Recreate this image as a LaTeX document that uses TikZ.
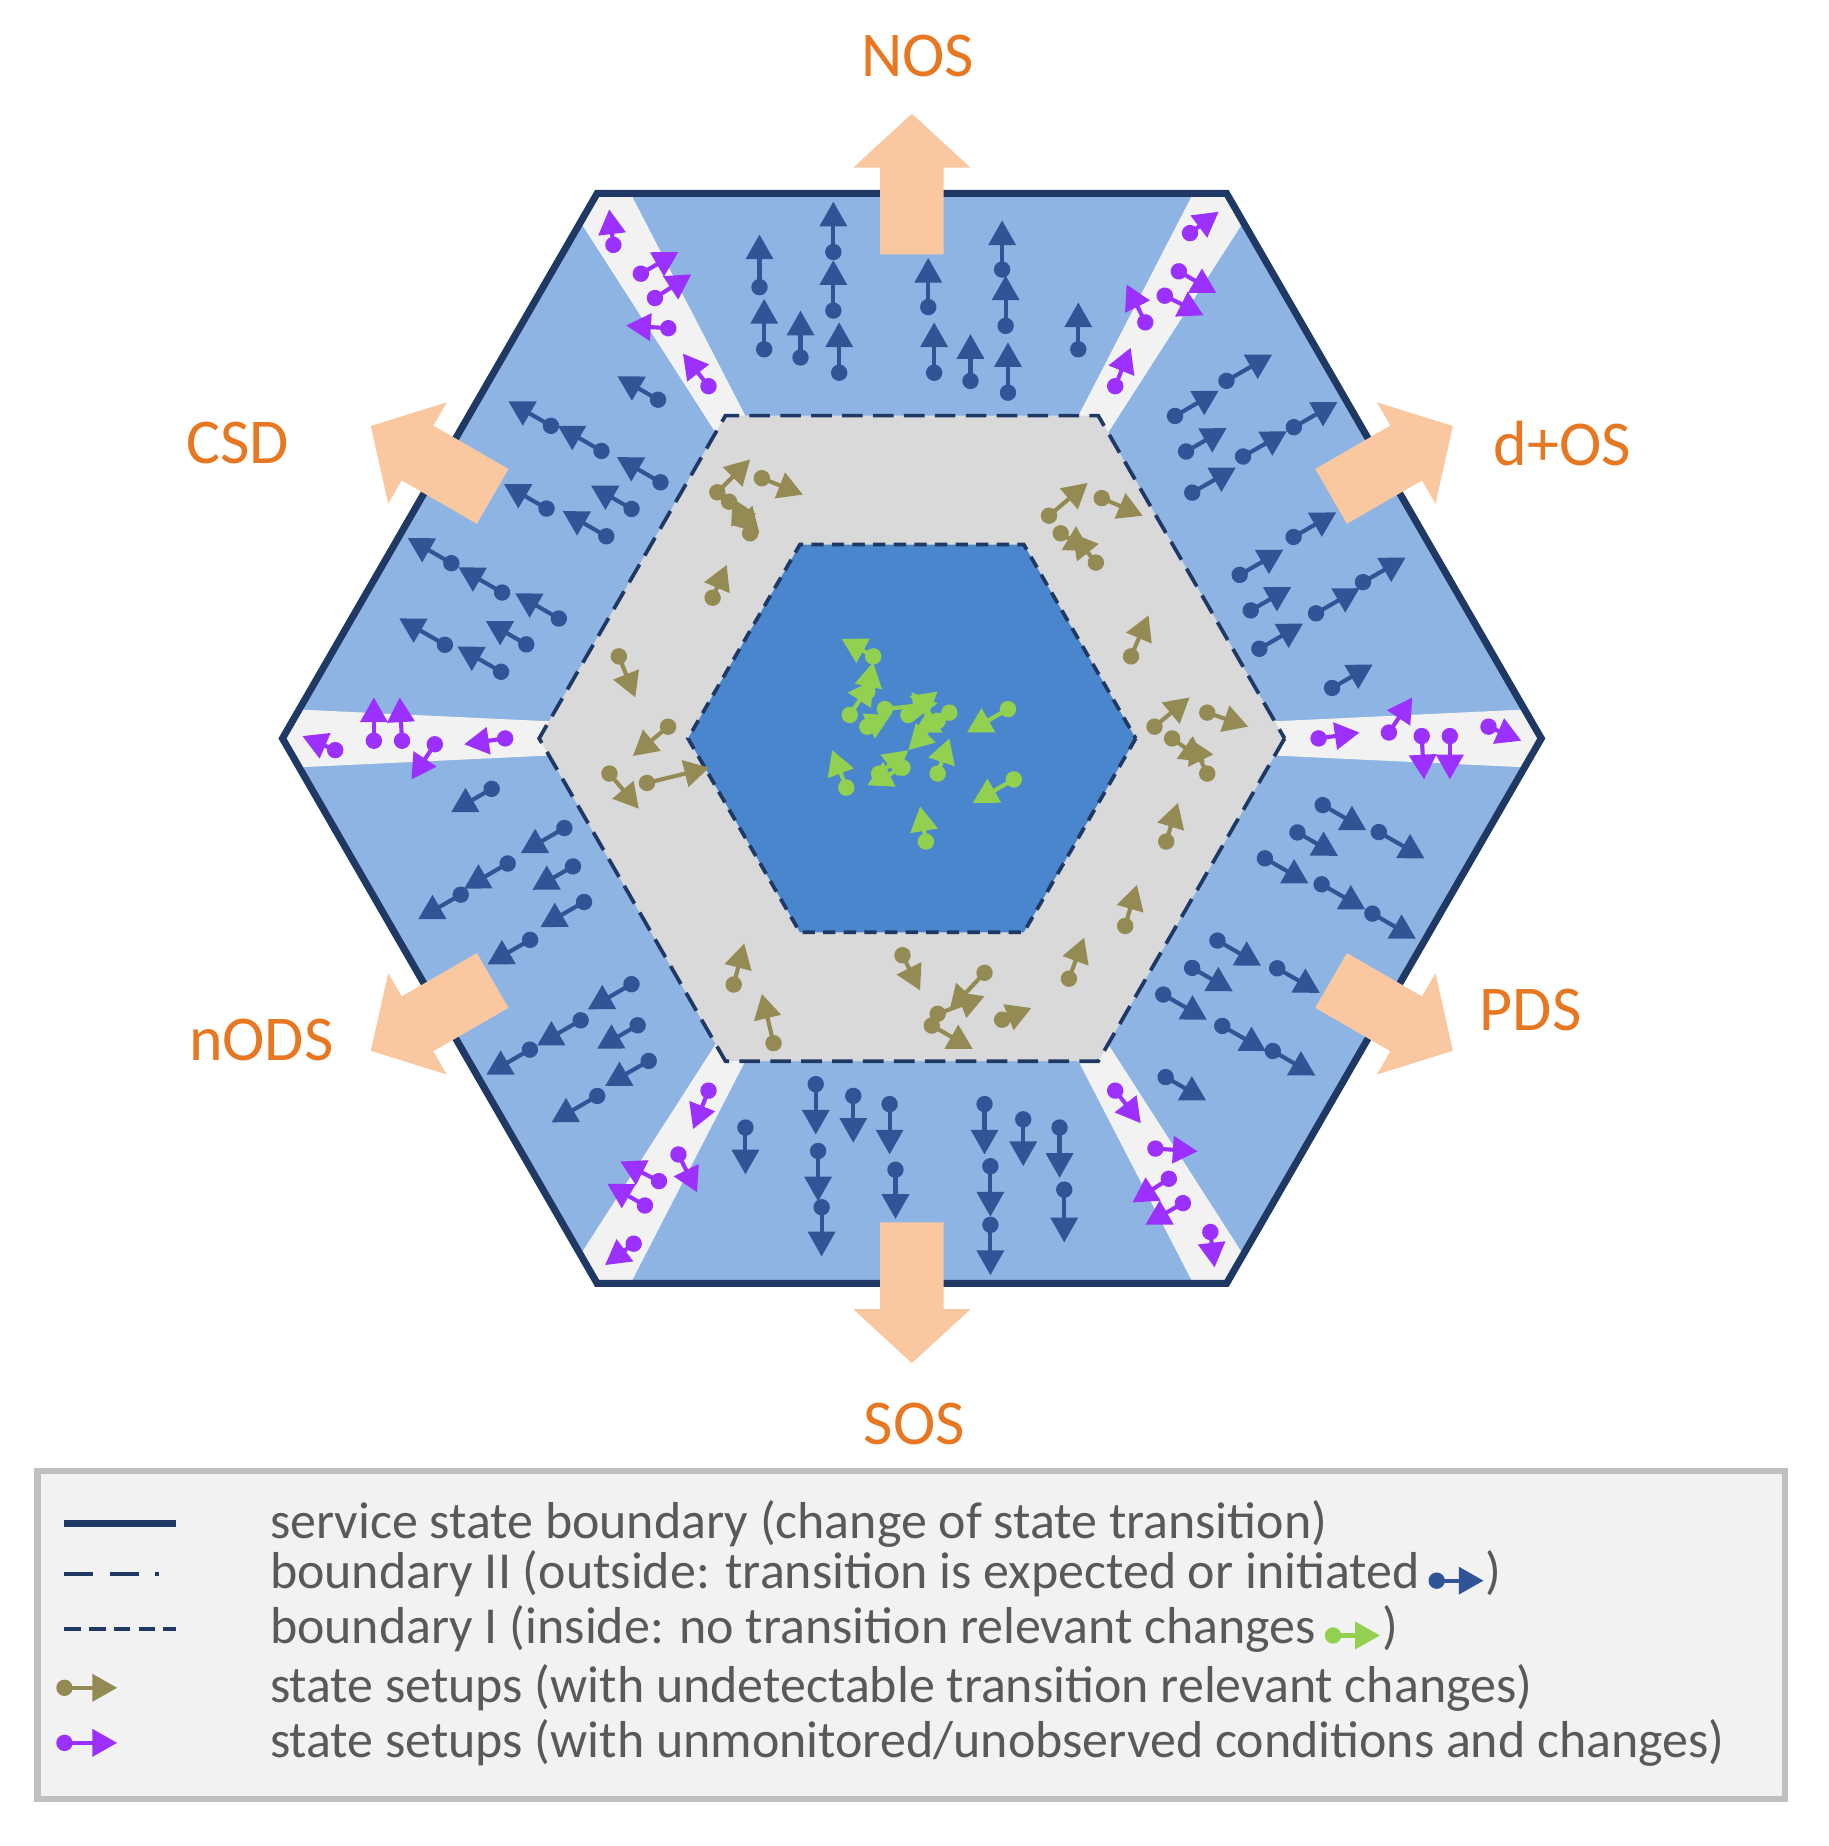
\documentclass[tikz,border=0pt]{standalone}
\usepackage{fontspec}
\setmainfont{Carlito}
\usetikzlibrary{arrows.meta,calc}
\definecolor{navy}{HTML}{1F3864}
\definecolor{lblue}{HTML}{8EB4E3}
\definecolor{mblue}{HTML}{4A86CE}
\definecolor{ring}{HTML}{D9D9D9}
\definecolor{strip}{HTML}{F2F2F2}
\definecolor{peach}{HTML}{FAC8A0}
\definecolor{orng}{HTML}{E87722}
\definecolor{sblue}{HTML}{2F5597}
\definecolor{brn}{HTML}{948A54}
\definecolor{grn}{HTML}{92D050}
\definecolor{purp}{HTML}{9B30FF}
\definecolor{txt}{HTML}{595959}
\tikzset{
  sa/.style={line width=1pt,-{Triangle[length=6pt,width=6.5pt]}},
  lab/.style={text=orng,font=\fontsize{15.5}{18}\selectfont},
  legt/.style={text=txt,anchor=west,font=\fontsize{12.6}{14}\selectfont},
}
\newcommand\dar[5]{\draw[sa,#1] (#2,#3) -- (#4,#5); \fill[#1] (#2,#3) circle (7);}
\begin{document}
\begin{tikzpicture}[x=0.01cm,y=-0.01cm]
\useasboundingbox (0,0) rectangle (1560,1575);
\coordinate (c) at (778,630);
\fill[lblue] ($(c)+(0:537)$) \foreach \k in {60,120,...,300}{ -- ($(c)+(\k:537)$)} -- cycle;
\begin{scope}
\clip ($(c)+(0:537)$) \foreach \k in {60,120,...,300}{ -- ($(c)+(\k:537)$)} -- cycle;
\foreach \k in {0,60,...,300}{
  \fill[strip] (c) -- ($(c)+(\k-2.7:620)$) -- ($(c)+(\k+2.7:620)$) -- cycle;
}
\end{scope}
\draw[navy,line width=0.9pt,fill=ring,dash pattern=on 5pt off 2.5pt] ($(c)+(0:318)$) \foreach \k in {60,120,...,300}{ -- ($(c)+(\k:318)$)} -- cycle;
\draw[navy,line width=0.9pt,fill=mblue,dash pattern=on 3pt off 2pt] ($(c)+(0:191)$) \foreach \k in {60,120,...,300}{ -- ($(c)+(\k:191)$)} -- cycle;
\draw[navy,line width=1.7pt] ($(c)+(0:537)$) \foreach \k in {60,120,...,300}{ -- ($(c)+(\k:537)$)} -- cycle;
\foreach \r in {0,60,...,300}{
\begin{scope}[shift={(c)},rotate=\r]
\foreach \xa/\ya/\xb/\yb in {648/245/648/200,652/298/652/255,683/305/683/265,711/215/711/172,711/265/711/222,716/318/716/275,792/262/792/220,797/318/797/275,828/325/828/285,855/230/855/188,858/278/858/235,860/335/860/292,920/298/920/258}{
  \dar{sblue}{\xa-778}{\ya-630}{\xb-778}{\yb-630}
}
\foreach \xa/\ya/\xb/\yb in {347/0/382/-5,407/-5/427/-35,435/-2/437/35,459/-2/459/35,492/-10/520/2}{
  \dar{purp}{\xa}{\ya}{\xb}{\yb}
}
\end{scope}}
\foreach \xa/\ya/\xb/\yb in {612/420/640/392,650/408/685/422,622/428/648/455,640/455/625/425,608/510/620/482,528/560/542/595,520/660/545/690,552/668/605/655,570/620/540/645,895/440/928/412,940/425/975/440,905/455/930/470,935/480/915/455,965/560/980/525,985/620/1015/595,1030/608/1065/620,1000/630/1028/650,1030/660/1015/630,995/718/1005/685,960/790/970/755,912/835/925/800,770/815/785/845,800/865/840/850,840/830/810/862,795/875/830/895,855/870/880/860,660/890/650/848,626/840/635/805}{
  \dar{brn}{\xa}{\ya}{\xb}{\yb}
}
\foreach \xa/\ya/\xb/\yb in {745/560/718/545,740/590/745/565,725/610/745/580,755/605/800/600,775/610/800/590,800/615/775/640,810/608/780/625,860/605/825/625,722/672/710/640,750/660/775/640,800/660/810/630,770/655/740/670,865/665/830/685,790/718/785/688,740/620/760/610}{
  \dar{grn}{\xa}{\ya}{\xb}{\yb}
}
\foreach \a in {90,150,210,270,330,30}{
  \fill[peach] ($(c)+(-\a:465)+(-\a:-52)+(-\a+90:27)$) -- ($(c)+(-\a:465)+(-\a:22)+(-\a+90:27)$) -- ($(c)+(-\a:465)+(-\a:22)+(-\a+90:50)$) -- ($(c)+(-\a:465)+(-\a:68)$) -- ($(c)+(-\a:465)+(-\a:22)+(-\a+90:-50)$) -- ($(c)+(-\a:465)+(-\a:22)+(-\a+90:-27)$) -- ($(c)+(-\a:465)+(-\a:-52)+(-\a+90:-27)$) -- cycle;
}
\node[lab] (nos) at (783,48) {NOS};
\node[lab] (csd) at (203,378) {CSD};
\node[lab] (dos) at (1333,378) {d+OS};
\node[lab] (pds) at (1306,862) {PDS};
\node[lab] (nods) at (223,887) {nODS};
\node[lab] (sos) at (780,1215) {SOS};
\draw[fill=strip,draw=black!25,line width=1.5pt] (32,1255) rectangle (1523,1535);
\draw[navy,line width=1.8pt] (55,1300) -- (150,1300);
\draw[navy,line width=1pt,dash pattern=on 7pt off 4pt on 7pt off 4pt on 1pt] (55,1343) -- (150,1343);
\draw[navy,line width=1pt,dash pattern=on 4pt off 2pt] (55,1390) -- (150,1390);
\dar{brn}{55}{1440}{100}{1440}
\dar{purp}{55}{1487}{100}{1487}
\node[legt] (l1) at (218,1300) {service state boundary (change of state transition)};
\node[legt] (l2) at (218,1343) {boundary II (outside: transition is expected or initiated\,\tikz[x=0.01cm,y=-0.01cm,baseline=-2pt]{\draw[sa,sblue] (0,0)--(40,0); \fill[sblue] (0,0) circle (7);})};
\node[legt] (l3) at (218,1390) {boundary I (inside: no transition relevant changes\,\tikz[x=0.01cm,y=-0.01cm,baseline=-2pt]{\draw[sa,grn] (0,0)--(40,0); \fill[grn] (0,0) circle (7);})};
\node[legt] (l4) at (218,1440) {state setups (with undetectable transition relevant changes)};
\node[legt] (l5) at (218,1487) {state setups (with unmonitored/unobserved conditions and changes)};
\end{tikzpicture}
\end{document}
